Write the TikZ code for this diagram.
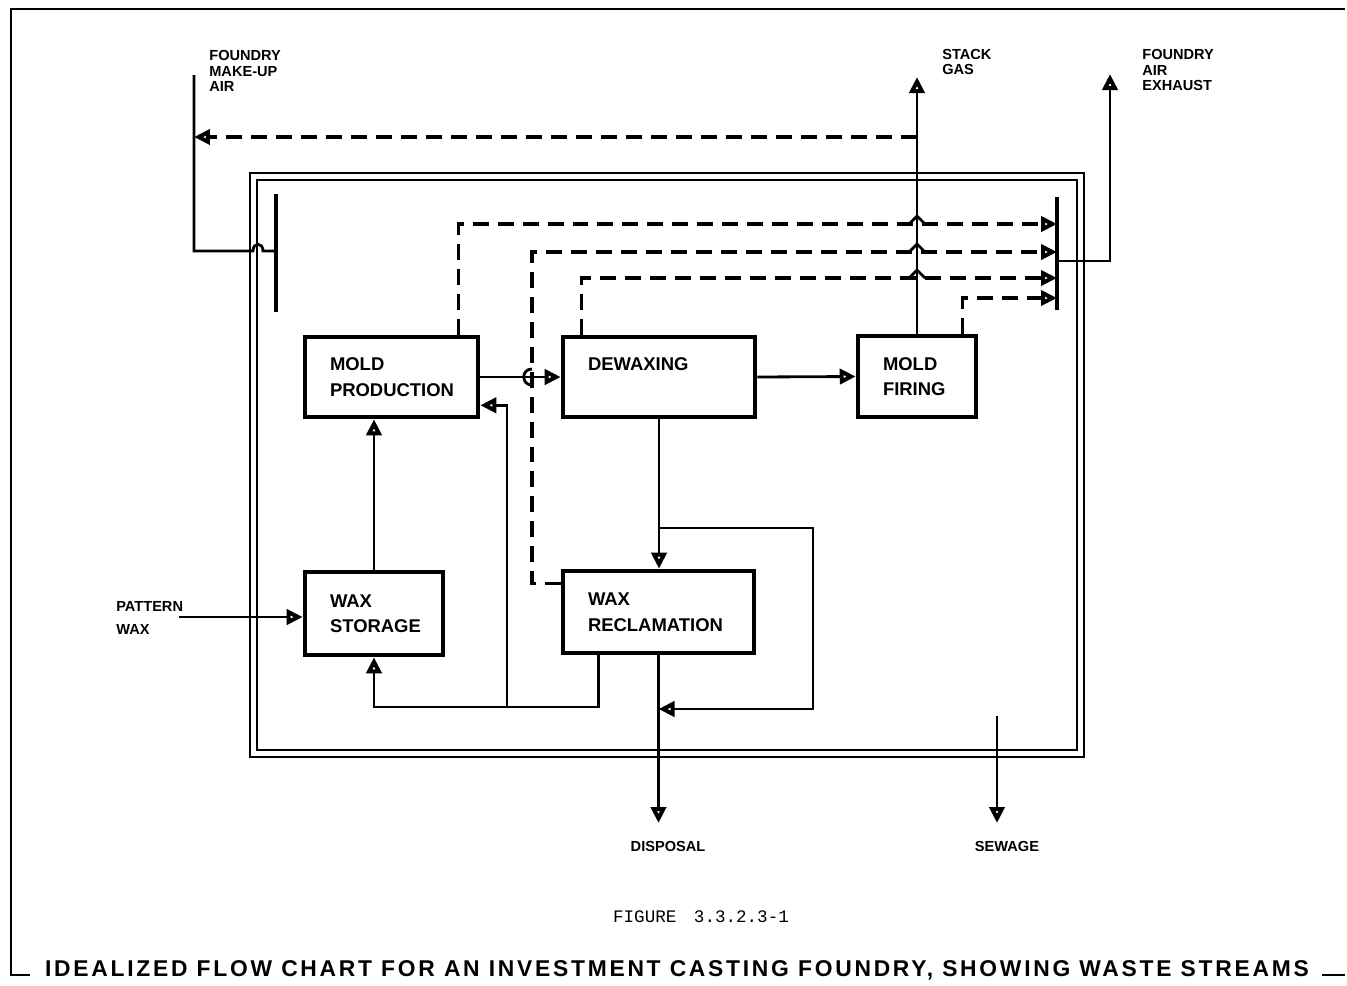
\documentclass[tikz,border=0pt]{standalone}
\usepackage{fontspec}
\setmainfont{Liberation Sans}
\newfontfamily\figfont{Liberation Mono}
\newfontfamily\capfont[LetterSpace=12]{Liberation Sans}
\usetikzlibrary{arrows.meta,positioning,calc}

\tikzset{
  blk/.style={draw, line width=2.6pt, inner xsep=0.5cm, inner ysep=0pt, align=left,
    font=\fontsize{10.5}{14.5}\selectfont\bfseries},
  pipe/.style={line width=1.6pt},
  flow/.style={pipe, -{Triangle[open,length=0.32cm,width=0.3cm,line width=2.4pt]}},
  vent/.style={flow, line width=1.8pt, dash pattern=on 0.32cm off 0.18cm},
  wall/.style={line width=1.1pt},
  tag/.style={font=\fontsize{8.3}{9}\selectfont\bfseries, align=left, inner sep=0pt},
}

\begin{document}
\begin{tikzpicture}[x=0.02cm, y=-0.02cm]
  \useasboundingbox (0,0) rectangle (1347,985);

  % sheet frame and plant boundary
  \draw[line width=1.4pt] (30,975) -- (11,975) -- (11,9) -- (1345,9);
  \draw[line width=1.4pt] (1322,975) -- (1345,975);
  \draw[wall] (250,173) rectangle (1084,757);
  \draw[wall] (257,180) rectangle (1077,750);

  % process blocks
  \node[blk, text width=2.46cm, minimum height=1.6cm] (mold) at (391.5,377) {MOLD\\PRODUCTION};
  \node[blk, text width=2.84cm, minimum height=1.6cm] (dewax) at (659,377) {DEWAXING\\\phantom{X}};
  \node[blk, text width=1.36cm, minimum height=1.62cm] (firing) at (917,376.5) {MOLD\\FIRING};
  \node[blk, text width=1.76cm, minimum height=1.66cm] (storage) at (374,613.5) {WAX\\STORAGE};
  \node[blk, text width=2.82cm, minimum height=1.64cm] (reclam) at (658.5,612) {WAX\\RECLAMATION};

  % stream labels
  \node[tag, anchor=west] (makeup) at (209,71) {FOUNDRY\\MAKE-UP\\AIR};
  \node[tag, anchor=west] (stack) at (942,62) {STACK\\GAS};
  \node[tag, anchor=west] (exhaust) at (1142,70) {FOUNDRY\\AIR\\EXHAUST};
  \node[tag, anchor=west] (pattern) at (116,618) {PATTERN\\[4pt]WAX};
  \node[tag] (disposal) at (668,846) {DISPOSAL};
  \node[tag] (sewage) at (1007,846) {SEWAGE};

  % air headers
  \coordinate (airin) at (194,75);
  \coordinate (inhdr) at (276,251);
  \coordinate (outhdr) at (1057,261);
  \coordinate (exhtop) at (1110,74);
  \coordinate (stacktop) at (917,77);
  \coordinate (stackret) at (917,137);
  \coordinate (h1) at (1057,224);
  \coordinate (h2) at (1057,252);
  \coordinate (h3) at (1057,278);
  \coordinate (h4) at (1057,298);
  \draw[line width=1.8pt] (276,194) -- (276,312);
  \draw[line width=1.8pt] (1057,197) -- (1057,310);

  \draw[pipe] (airin) |- (253,251) .. controls (253,242) and (263,242) .. (263,251) -- (inhdr);
  \draw[vent] (stackret) -- (airin |- stackret);
  \draw[flow] (firing.north) -- (stacktop);
  \draw[flow] (outhdr) -| (exhtop);

  % fume lines
  \draw[vent] ($(mold.north east)+(-22,0)$) |- (h1);
  \draw[vent] ($(reclam.north west)+(0,15)$) -| (532,252) -- (h2);
  \draw[vent] ($(dewax.north west)+(21,0)$) |- (h3);
  \draw[vent] ($(firing.north east)+(-16,0)$) |- (h4);
  \foreach \y in {224,252,278}
    \draw[pipe] (909,\y) -- (917,\y-8) -- (925,\y);
  \draw[pipe] (532,369) .. controls (521,369) and (521,385) .. (532,385);

  % wax and mold flows
  \coordinate (pwax) at (179,617);
  \coordinate (split) at (dewax.south |- 0,528);
  \coordinate (mixin) at (reclam.south |- 0,709);
  \coordinate (rjoin) at (507,707);
  \coordinate (sewin) at (997,716);
  \draw[flow] (pwax) -- (storage.west |- pwax);
  \draw[flow] (storage.north) -- (storage.north |- mold.south);
  \draw[flow] (mold.east) -- (dewax.west);
  \draw[flow] (dewax.east) -- (firing.west);
  \draw[flow] (dewax.south) -- (dewax.south |- reclam.north);
  \draw[flow] (split) -| (813,709) -- (mixin);
  \draw[flow] ($(reclam.south west)+(38,0)$) |- (rjoin) -| (storage.south);
  \draw[flow] (rjoin) |- ($(mold.south east)+(0,-14)$);
  \draw[flow] (reclam.south) -- (reclam.south |- 0,823);
  \draw[flow] (sewin) -- (sewin |- 0,823);

  % caption
  \node[font=\fontsize{10}{12}\selectfont\figfont] (fig) at (701,917) {FIGURE\quad 3.3.2.3-1};
  \node[font=\fontsize{13}{15}\selectfont\capfont\bfseries] (title) at (677,970)
    {IDEALIZED FLOW CHART FOR AN INVESTMENT CASTING FOUNDRY, SHOWING WASTE STREAMS};
\end{tikzpicture}
\end{document}
